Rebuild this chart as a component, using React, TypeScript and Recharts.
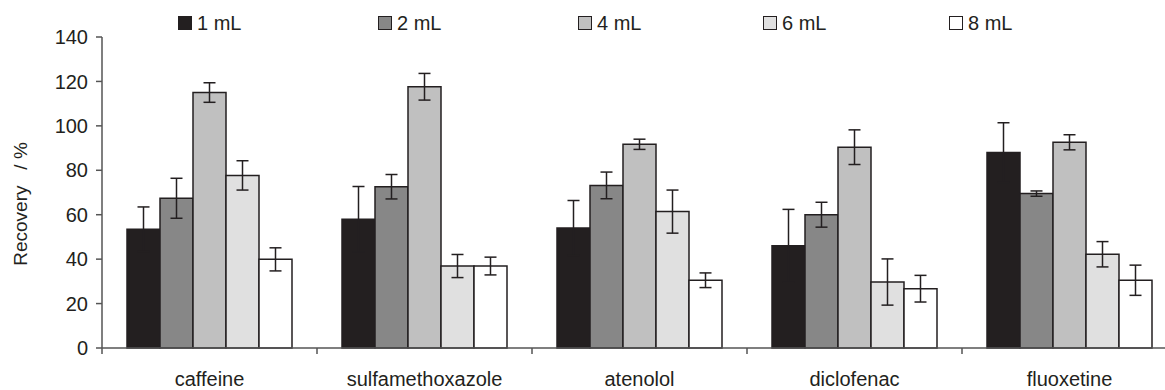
import React from 'react';
import { BarChart, Bar, XAxis, YAxis, ErrorBar } from 'recharts';

const categories = ['caffeine', 'sulfamethoxazole', 'atenolol', 'diclofenac', 'fluoxetine'];
const seriesNames = ['1 mL', '2 mL', '4 mL', '6 mL', '8 mL'];

const rec1 = [53.5, 58, 54, 46, 88];
const err1 = [10, 14.7, 12.4, 16.4, 13.4];
const rec2 = [67.4, 72.6, 73.2, 60, 69.5];
const err2 = [9, 5.5, 6, 5.6, 1.2];
const rec4 = [115, 117.6, 91.7, 90.4, 92.6];
const err4 = [4.4, 6, 2.3, 7.8, 3.4];
const rec6 = [77.7, 36.9, 61.4, 29.7, 42.2];
const err6 = [6.6, 5.2, 9.7, 10.4, 5.7];
const rec8 = [39.9, 36.9, 30.5, 26.7, 30.5];
const err8 = [5.2, 4, 3.3, 6, 6.8];

const yTicks = [0, 20, 40, 60, 80, 100, 120, 140];

const COLORS = ['#231F20', '#878787', '#C0C0C0', '#E0E0E0', '#FFFFFF'];
const INK = '#231F20';
const AXIS = '#555555';
const FONT = '"Liberation Sans", Arial, sans-serif';

const values = [rec1, rec2, rec4, rec6, rec8];
const errors = [err1, err2, err4, err6, err8];

const data = categories.map((name, i) => {
  const row: Record<string, string | number> = { name };
  seriesNames.forEach((s, k) => {
    row['v' + k] = values[k][i];
    row['e' + k] = errors[k][i];
  });
  return row;
});

// plot geometry: axis baseline and half of a category band
const AXIS_Y = 348;
const HALF_BAND = 107.5;
const legendLeft = [178, 378, 578, 763, 949];

const XTick = (props: any) => {
  const { x, payload } = props;
  return (
    <g>
      <line x1={x - HALF_BAND} y1={AXIS_Y} x2={x - HALF_BAND} y2={AXIS_Y + 6} stroke={AXIS} strokeWidth={1.5} />
      <text x={x} y={AXIS_Y + 38} textAnchor="middle" fill={INK} fontSize={20} fontFamily={FONT}>
        {payload.value}
      </text>
    </g>
  );
};

const YLabel = () => (
  <text
    x={27}
    y={204}
    transform="rotate(-90 27 204)"
    textAnchor="middle"
    fill={INK}
    fontSize={19}
    fontFamily={FONT}
    style={{ whiteSpace: 'pre' }}
  >
    {'Recovery   / %'}
  </text>
);

export default function App() {
  return (
    <div style={{ position: 'fixed', left: 0, top: 0, width: 1165, height: 390, overflow: 'hidden', background: '#fff', fontFamily: FONT }}>
      <div style={{ position: 'absolute', left: 0, top: 0 }}>
        <BarChart
          width={1200}
          height={390}
          data={data}
          margin={{ top: 37, right: 23, bottom: 12, left: 40 }}
          barCategoryGap={25}
          barGap={0}
        >
          <XAxis
            dataKey="name"
            tickLine={false}
            axisLine={{ stroke: AXIS, strokeWidth: 1.5 }}
            tick={<XTick />}
            height={30}
            interval={0}
          />
          <YAxis
            width={62}
            domain={[0, 140]}
            ticks={yTicks}
            interval={0}
            tickSize={6}
            tickMargin={8}
            tickLine={{ stroke: AXIS, strokeWidth: 1.5 }}
            axisLine={{ stroke: AXIS, strokeWidth: 1.5 }}
            tick={{ fill: INK, fontSize: 20, fontFamily: FONT }}
            label={<YLabel />}
          />
          {seriesNames.map((s, k) => (
            <Bar key={s} dataKey={'v' + k} name={s} fill={COLORS[k]} stroke={INK} strokeWidth={1.5} isAnimationActive={false}>
              <ErrorBar dataKey={'e' + k} width={6} stroke={INK} strokeWidth={1.5} isAnimationActive={false} />
            </Bar>
          ))}
        </BarChart>
      </div>
      {seriesNames.map((s, k) => (
        <div key={s} style={{ position: 'absolute', left: legendLeft[k], top: 12, display: 'flex', alignItems: 'center', height: 22 }}>
          <span style={{ display: 'inline-block', width: 12, height: 12, background: COLORS[k], border: `1px solid ${INK}`, marginRight: 5 }} />
          <span style={{ fontSize: 20, color: INK, lineHeight: '22px' }}>{s}</span>
        </div>
      ))}
    </div>
  );
}
